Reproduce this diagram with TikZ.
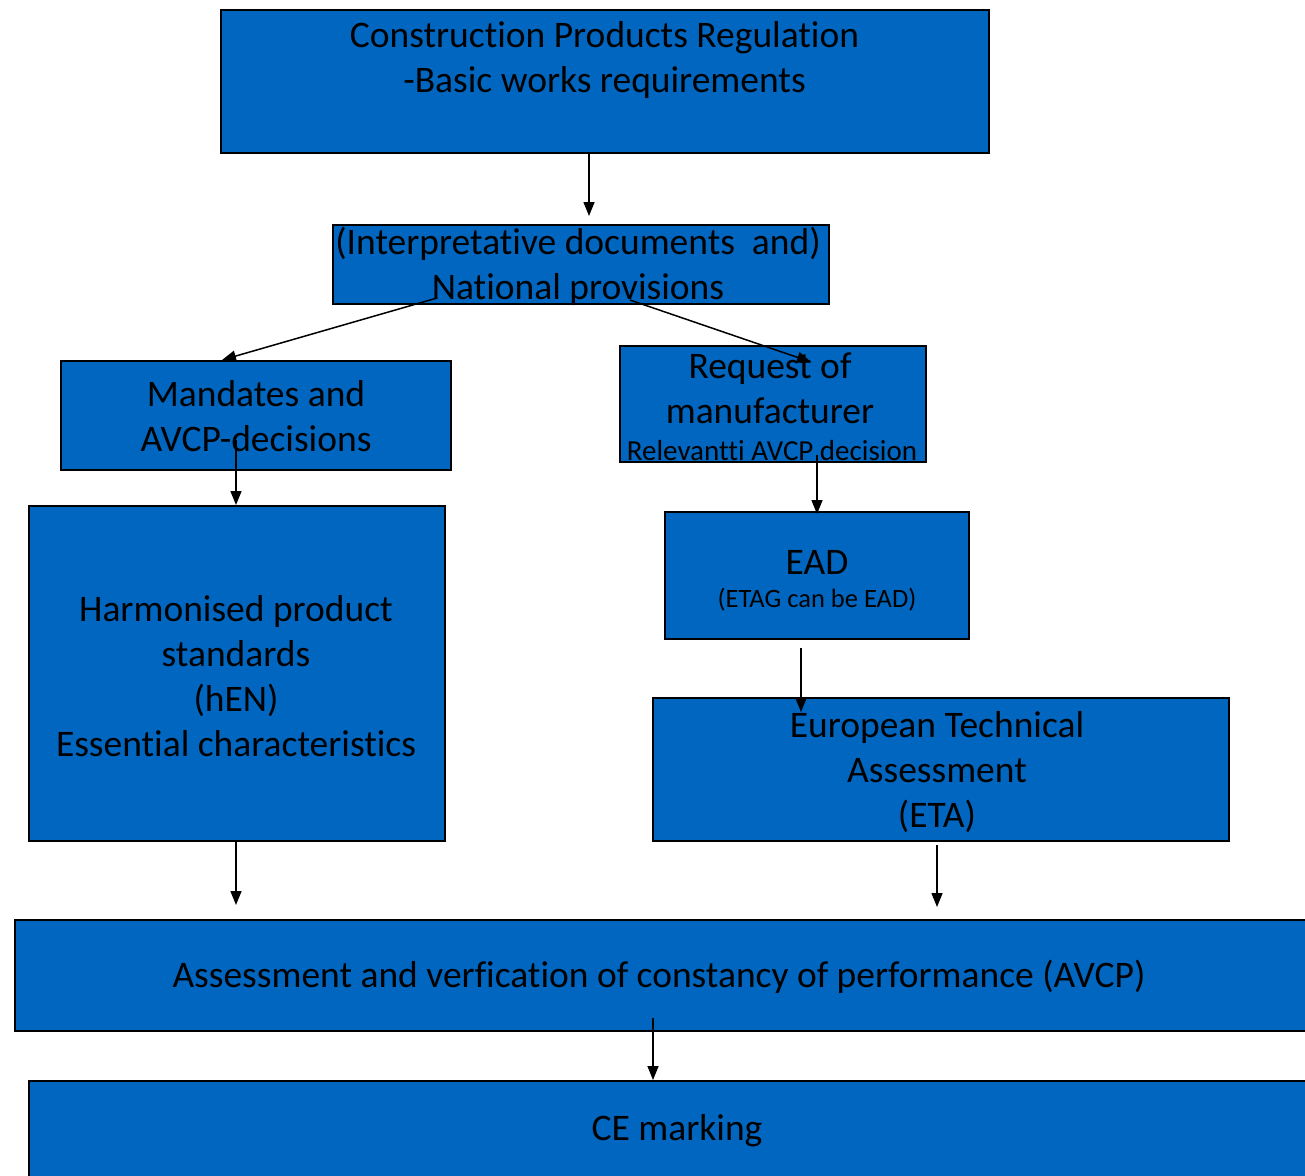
\documentclass[tikz,border=0pt]{standalone}
\usepackage{fontspec}
\setmainfont{Carlito}[Ligatures={NoCommon}]
\usetikzlibrary{arrows.meta}
\definecolor{boxblue}{HTML}{0066C0}
\begin{document}
\begin{tikzpicture}[x=1pt,y=-1pt,
  boxst/.style={draw=black,line width=1.6pt,fill=boxblue,rectangle,inner sep=0pt},
  txt/.style={align=center,font=\fontsize{37.5}{45}\selectfont,inner sep=0pt},
  smalltxt/.style={align=center,font=\fontsize{29}{33}\selectfont,inner sep=0pt},
  smallertxt/.style={align=center,font=\fontsize{26.5}{30}\selectfont,inner sep=0pt},
  arr/.style={line width=1.5pt,-{Triangle[length=14pt,width=11pt]}}]
\useasboundingbox (0,0) rectangle (1305,1175);
\clip (0,0) rectangle (1305,1175);
% boxes
\node[boxst,minimum width=768,minimum height=143] (b1) at (605,81.5) {};
\node[boxst,minimum width=496,minimum height=79] (b2) at (581,264.5) {};
\node[boxst,minimum width=390,minimum height=109] (b3) at (256,415.5) {};
\node[boxst,minimum width=306,minimum height=116] (b4) at (773,404) {};
\node[boxst,minimum width=304,minimum height=127] (b5) at (817,575.5) {};
\node[boxst,minimum width=416,minimum height=335] (b6) at (237,673.5) {};
\node[boxst,minimum width=576,minimum height=143] (b7) at (941,769.5) {};
\node[boxst,minimum width=1315,minimum height=111] (b8) at (672.5,975.5) {};
\node[boxst,minimum width=1301,minimum height=109] (b9) at (679.5,1135.5) {};
% texts
\node[txt] (t1) at (604.5,60) {Construction Products Regulation\\-Basic works requirements};
\node[txt] (t2) at (578,266) {(Interpretative documents\ \ and)\\National provisions};
\node[txt] (t3) at (256,416.5) {Mandates and\\AVCP-decisions};
\node[txt] (t4) at (770,388.5) {Request of\\manufacturer};
\node[smalltxt] (t4b) at (772,451) {Relevantti AVCP decision};
\node[txt] (t5) at (817,562) {EAD};
\node[smallertxt] (t5b) at (817,600) {(ETAG can be EAD)};
\node[txt] (t6) at (236,676) {Harmonised product\\standards\\(hEN)\\Essential characteristics};
\node[txt] (t7) at (937,772) {European Technical\\Assessment\\(ETA)};
\node[txt] (t8) at (659,977) {Assessment and verfication of constancy of performance (AVCP)};
\node[txt] (t9) at (677,1131) {CE marking};
% connector ends
\coordinate (a1s) at (589,153);  \coordinate (a1e) at (589,216);
\coordinate (a2s) at (437,298);  \coordinate (a2e) at (222,360);
\coordinate (a3s) at (630,300);  \coordinate (a3e) at (811,362);
\coordinate (a4s) at (236,440);  \coordinate (a4e) at (236,505);
\coordinate (a5s) at (817,455);  \coordinate (a5e) at (817,514);
\coordinate (a6s) at (801,648);  \coordinate (a6e) at (801,712);
\coordinate (a7s) at (236,842);  \coordinate (a7e) at (236,905);
\coordinate (a8s) at (937,845);  \coordinate (a8e) at (937,907);
\coordinate (a9s) at (653,1018); \coordinate (a9e) at (653,1080);
\draw[arr] (a1s) -- (a1e);
\draw[arr] (a2s) -- (a2e);
\draw[arr] (a3s) -- (a3e);
\draw[arr] (a4s) -- (a4e);
\draw[arr] (a5s) -- (a5e);
\draw[arr] (a6s) -- (a6e);
\draw[arr] (a7s) -- (a7e);
\draw[arr] (a8s) -- (a8e);
\draw[arr] (a9s) -- (a9e);
\end{tikzpicture}
\end{document}
